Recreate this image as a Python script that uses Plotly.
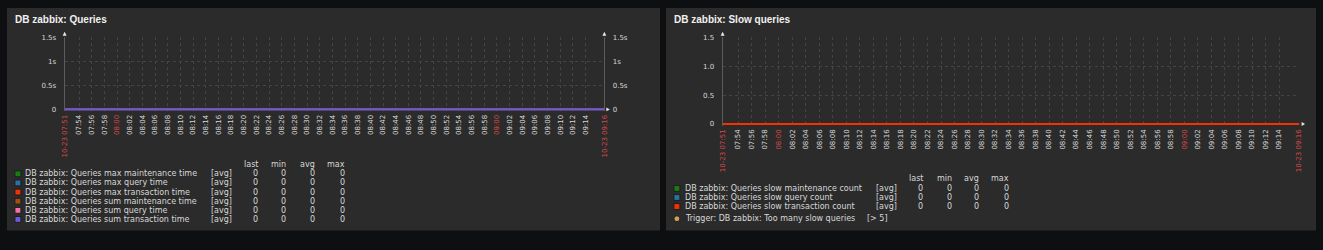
import plotly.graph_objects as go
import pandas as pd

W, H = 1323, 250

# ---------------- data ----------------
SAMPLE_TIMES = [
    "2023-10-23 07:50", "2023-10-23 07:55", "2023-10-23 08:00", "2023-10-23 08:05",
    "2023-10-23 08:10", "2023-10-23 08:15", "2023-10-23 08:20", "2023-10-23 08:25",
    "2023-10-23 08:30", "2023-10-23 08:35", "2023-10-23 08:40", "2023-10-23 08:45",
    "2023-10-23 08:50", "2023-10-23 08:55", "2023-10-23 09:00", "2023-10-23 09:05",
    "2023-10-23 09:10", "2023-10-23 09:15", "2023-10-23 09:20",
]

q_max_maintenance_time = [0, 0, 0, 0, 0, 0, 0, 0, 0, 0, 0, 0, 0, 0, 0, 0, 0, 0, 0]
q_max_query_time = [0, 0, 0, 0, 0, 0, 0, 0, 0, 0, 0, 0, 0, 0, 0, 0, 0, 0, 0]
q_max_transaction_time = [0, 0, 0, 0, 0, 0, 0, 0, 0, 0, 0, 0, 0, 0, 0, 0, 0, 0, 0]
q_sum_maintenance_time = [0, 0, 0, 0, 0, 0, 0, 0, 0, 0, 0, 0, 0, 0, 0, 0, 0, 0, 0]
q_sum_query_time = [0, 0, 0, 0, 0, 0, 0, 0, 0, 0, 0, 0, 0, 0, 0, 0, 0, 0, 0]
q_sum_transaction_time = [0, 0, 0, 0, 0, 0, 0, 0, 0, 0, 0, 0, 0, 0, 0, 0, 0, 0, 0]

slow_maintenance_count = [0, 0, 0, 0, 0, 0, 0, 0, 0, 0, 0, 0, 0, 0, 0, 0, 0, 0, 0]
slow_query_count = [0, 0, 0, 0, 0, 0, 0, 0, 0, 0, 0, 0, 0, 0, 0, 0, 0, 0, 0]
slow_transaction_count = [0, 0, 0, 0, 0, 0, 0, 0, 0, 0, 0, 0, 0, 0, 0, 0, 0, 0, 0]

TITLE_LEFT = "DB zabbix: Queries"
TITLE_RIGHT = "DB zabbix: Slow queries"

LEFT_NAMES = [
    "DB zabbix: Queries max maintenance time",
    "DB zabbix: Queries max query time",
    "DB zabbix: Queries max transaction time",
    "DB zabbix: Queries sum maintenance time",
    "DB zabbix: Queries sum query time",
    "DB zabbix: Queries sum transaction time",
]
RIGHT_NAMES = [
    "DB zabbix: Queries slow maintenance count",
    "DB zabbix: Queries slow query count",
    "DB zabbix: Queries slow transaction count",
]
TRIGGER_TEXT = "Trigger: DB zabbix: Too many slow queries"
TRIGGER_COND = "[> 5]"

LEFT_Y_TICKS = [0, 0.5, 1, 1.5]
LEFT_Y_LABELS = ["0", "0.5s", "1s", "1.5s"]
RIGHT_Y_TICKS = [0, 0.5, 1.0, 1.5]
RIGHT_Y_LABELS = ["0", "0.5", "1.0", "1.5"]

X_START = "2023-10-23 07:51:42"
X_END = "2023-10-23 09:16:58"
TICK_FIRST = "2023-10-23 07:54"
TICK_LAST = "2023-10-23 09:14"

# ---------------- style ----------------
PAGE_BG = "#0e0f11"
PANEL_BG = "#2b2b2b"
PLOT_BG = "#313131"
GRID = "#444444"
TXT = "#d8d8d8"
RED_TXT = "#d24a4a"
AXIS = "#5c5c5c"
ARROW = "#e8e8e8"
FONT = "DejaVu Sans"

LEFT_COLORS = ["#1a7c11", "#2774a4", "#f63100", "#a54f10", "#fc6ea3", "#6c59dc"]
RIGHT_COLORS = ["#1a7c11", "#2774a4", "#f63100"]


def fx(x):
    return x / W


def fy(y):
    return 1 - y / H


# ticks
start = pd.Timestamp(X_START)
end = pd.Timestamp(X_END)
mid_ticks = list(pd.date_range(TICK_FIRST, TICK_LAST, freq="2min"))
tick_vals = [start] + mid_ticks + [end]


def lbl(t, edge):
    s = t.strftime("%m-%d %H:%M") if edge else t.strftime("%H:%M")
    if edge or t.minute == 0:
        return f'<span style="color:{RED_TXT}">{s}</span>'
    return s


tick_text = [lbl(t, i == 0 or i == len(tick_vals) - 1) for i, t in enumerate(tick_vals)]
times = pd.to_datetime(SAMPLE_TIMES)

fig = go.Figure()

left_series = [q_max_maintenance_time, q_max_query_time, q_max_transaction_time,
               q_sum_maintenance_time, q_sum_query_time, q_sum_transaction_time]
for i, (name, vals, col) in enumerate(zip(LEFT_NAMES, left_series, LEFT_COLORS)):
    last = i == len(LEFT_NAMES) - 1
    fig.add_trace(go.Scatter(x=times, y=vals, mode="lines", name=name,
                             line=dict(color=col, width=2 if last else 1.2),
                             xaxis="x", yaxis="y3" if last else "y",
                             showlegend=False, hoverinfo="skip"))

right_series = [slow_maintenance_count, slow_query_count, slow_transaction_count]
for i, (name, vals, col) in enumerate(zip(RIGHT_NAMES, right_series, RIGHT_COLORS)):
    last = i == len(RIGHT_NAMES) - 1
    fig.add_trace(go.Scatter(x=times, y=vals, mode="lines", name=name,
                             line=dict(color=col, width=2 if last else 1.2),
                             xaxis="x2", yaxis="y2", showlegend=False, hoverinfo="skip"))

# geometry (pixels)
L_X0, L_X1, L_TOP, L_ZERO = 61, 604, 34, 108
R_X0, R_X1, R_TOP, R_ZERO = 723, 1303, 34, 123
PAD = 2

l_per_px = 1.5 / (L_ZERO - L_TOP)
r_per_px = 1.5 / (R_ZERO - R_TOP)

xcommon = dict(type="date", range=[start, end], tickmode="array", tickvals=tick_vals,
               ticktext=tick_text, tickangle=-90, showgrid=True, gridcolor=GRID,
               griddash="dot", gridwidth=1, showline=False, zeroline=False, ticks="",
               tickfont=dict(family=FONT, size=7, color=TXT), ticklabelstandoff=1,
               fixedrange=True)

ycommon = dict(showgrid=True, gridcolor=GRID, griddash="dot", gridwidth=1,
               zeroline=False, showline=True, linecolor=AXIS, linewidth=1, ticks="",
               tickfont=dict(family=FONT, size=7, color=TXT), ticklabelstandoff=6,
               fixedrange=True)

fig.update_layout(
    width=W, height=H, margin=dict(l=0, r=0, t=0, b=0),
    paper_bgcolor=PAGE_BG, plot_bgcolor=PLOT_BG,
    xaxis=dict(domain=[fx(L_X0), fx(L_X1)], anchor="y", **xcommon),
    yaxis=dict(domain=[fy(L_ZERO + PAD), fy(L_TOP)], anchor="x",
               range=[-PAD * l_per_px, 1.5], tickvals=LEFT_Y_TICKS, ticktext=LEFT_Y_LABELS,
               **ycommon),
    yaxis3=dict(overlaying="y", side="right", anchor="x",
                range=[-PAD * l_per_px, 1.5], tickvals=LEFT_Y_TICKS, ticktext=LEFT_Y_LABELS,
                **{**ycommon, "showgrid": False}),
    xaxis2=dict(domain=[fx(R_X0), fx(R_X1)], anchor="y2", **xcommon),
    yaxis2=dict(domain=[fy(R_ZERO + PAD), fy(R_TOP)], anchor="x2",
                range=[-PAD * r_per_px, 1.5], tickvals=RIGHT_Y_TICKS, ticktext=RIGHT_Y_LABELS,
                **ycommon),
)

shapes = []
# widget panels
for (x0, x1) in [(3, 660), (666, 1320)]:
    shapes.append(dict(type="rect", xref="paper", yref="paper", x0=fx(x0), x1=fx(x1),
                       y0=fy(232), y1=fy(4), fillcolor=PANEL_BG, line=dict(width=0),
                       layer="below"))


def tri(points):
    p = " L ".join(f"{fx(x)} {fy(y)}" for x, y in points)
    return dict(type="path", xref="paper", yref="paper", path=f"M {p} Z",
                fillcolor=ARROW, line=dict(width=0), layer="above")


# axis arrows
for ax in [L_X0, L_X1, R_X0]:
    shapes.append(tri([(ax - 2, 32.5), (ax + 2, 32.5), (ax, 28.5)]))
shapes.append(tri([(L_X1 + 2, L_ZERO - 2), (L_X1 + 2, L_ZERO + 2), (L_X1 + 5.5, L_ZERO)]))
shapes.append(tri([(R_X1 + 2.5, R_ZERO - 2), (R_X1 + 2.5, R_ZERO + 2), (R_X1 + 6, R_ZERO)]))

annotations = []


def text(x, y, s, anchor="left", size=8, color=TXT, family=FONT):
    annotations.append(dict(x=fx(x), y=fy(y), xref="paper", yref="paper", text=s,
                            showarrow=False, xanchor=anchor, yanchor="middle",
                            font=dict(family=family, size=size, color=color), borderpad=0))


# titles
text(10, 16, f"<b>{TITLE_LEFT}</b>", size=10, color="#f0f0f0", family="Liberation Sans")
text(673, 16, f"<b>{TITLE_RIGHT}</b>", size=10, color="#f0f0f0", family="Liberation Sans")


def legend(names, series, colors, sq_x, txt_x, avg_x, col_right, header_y, row_y0, step):
    for hdr, cx in zip(["last", "min", "avg", "max"], col_right):
        text(cx, header_y, hdr, anchor="right")
    for i, (name, vals, col) in enumerate(zip(names, series, colors)):
        y = row_y0 + i * step
        shapes.append(dict(type="rect", xref="paper", yref="paper", x0=fx(sq_x), x1=fx(sq_x + 6),
                           y0=fy(y + 3), y1=fy(y - 3), fillcolor=col,
                           line=dict(color="#1e1e1e", width=1), layer="above"))
        text(txt_x, y, name)
        text(avg_x, y, "[avg]")
        stats = [vals[-1], min(vals), sum(vals) / len(vals), max(vals)]
        for v, cx in zip(stats, col_right):
            text(cx, y, f"{v:g}", anchor="right")


legend(LEFT_NAMES, left_series, LEFT_COLORS, 11, 20.5, 207.5, [256.5, 285, 313.5, 344.5],
       164, 174, 9.35)
legend(RIGHT_NAMES, right_series, RIGHT_COLORS, 674, 684, 876.5, [925.5, 954.5, 982, 1012.5],
       179, 189, 9.25)

# trigger
shapes.append(dict(type="circle", xref="paper", yref="paper", x0=fx(674), x1=fx(680),
                   y0=fy(223), y1=fy(217), fillcolor="#c9a055",
                   line=dict(color="#1e1e1e", width=1), layer="above"))
text(684, 220, TRIGGER_TEXT)
text(867.5, 220, TRIGGER_COND)

fig.update_layout(shapes=shapes, annotations=annotations)
fig.write_html("out.html",
               post_script="document.body.style.margin='0';document.body.style.overflow='hidden';")
